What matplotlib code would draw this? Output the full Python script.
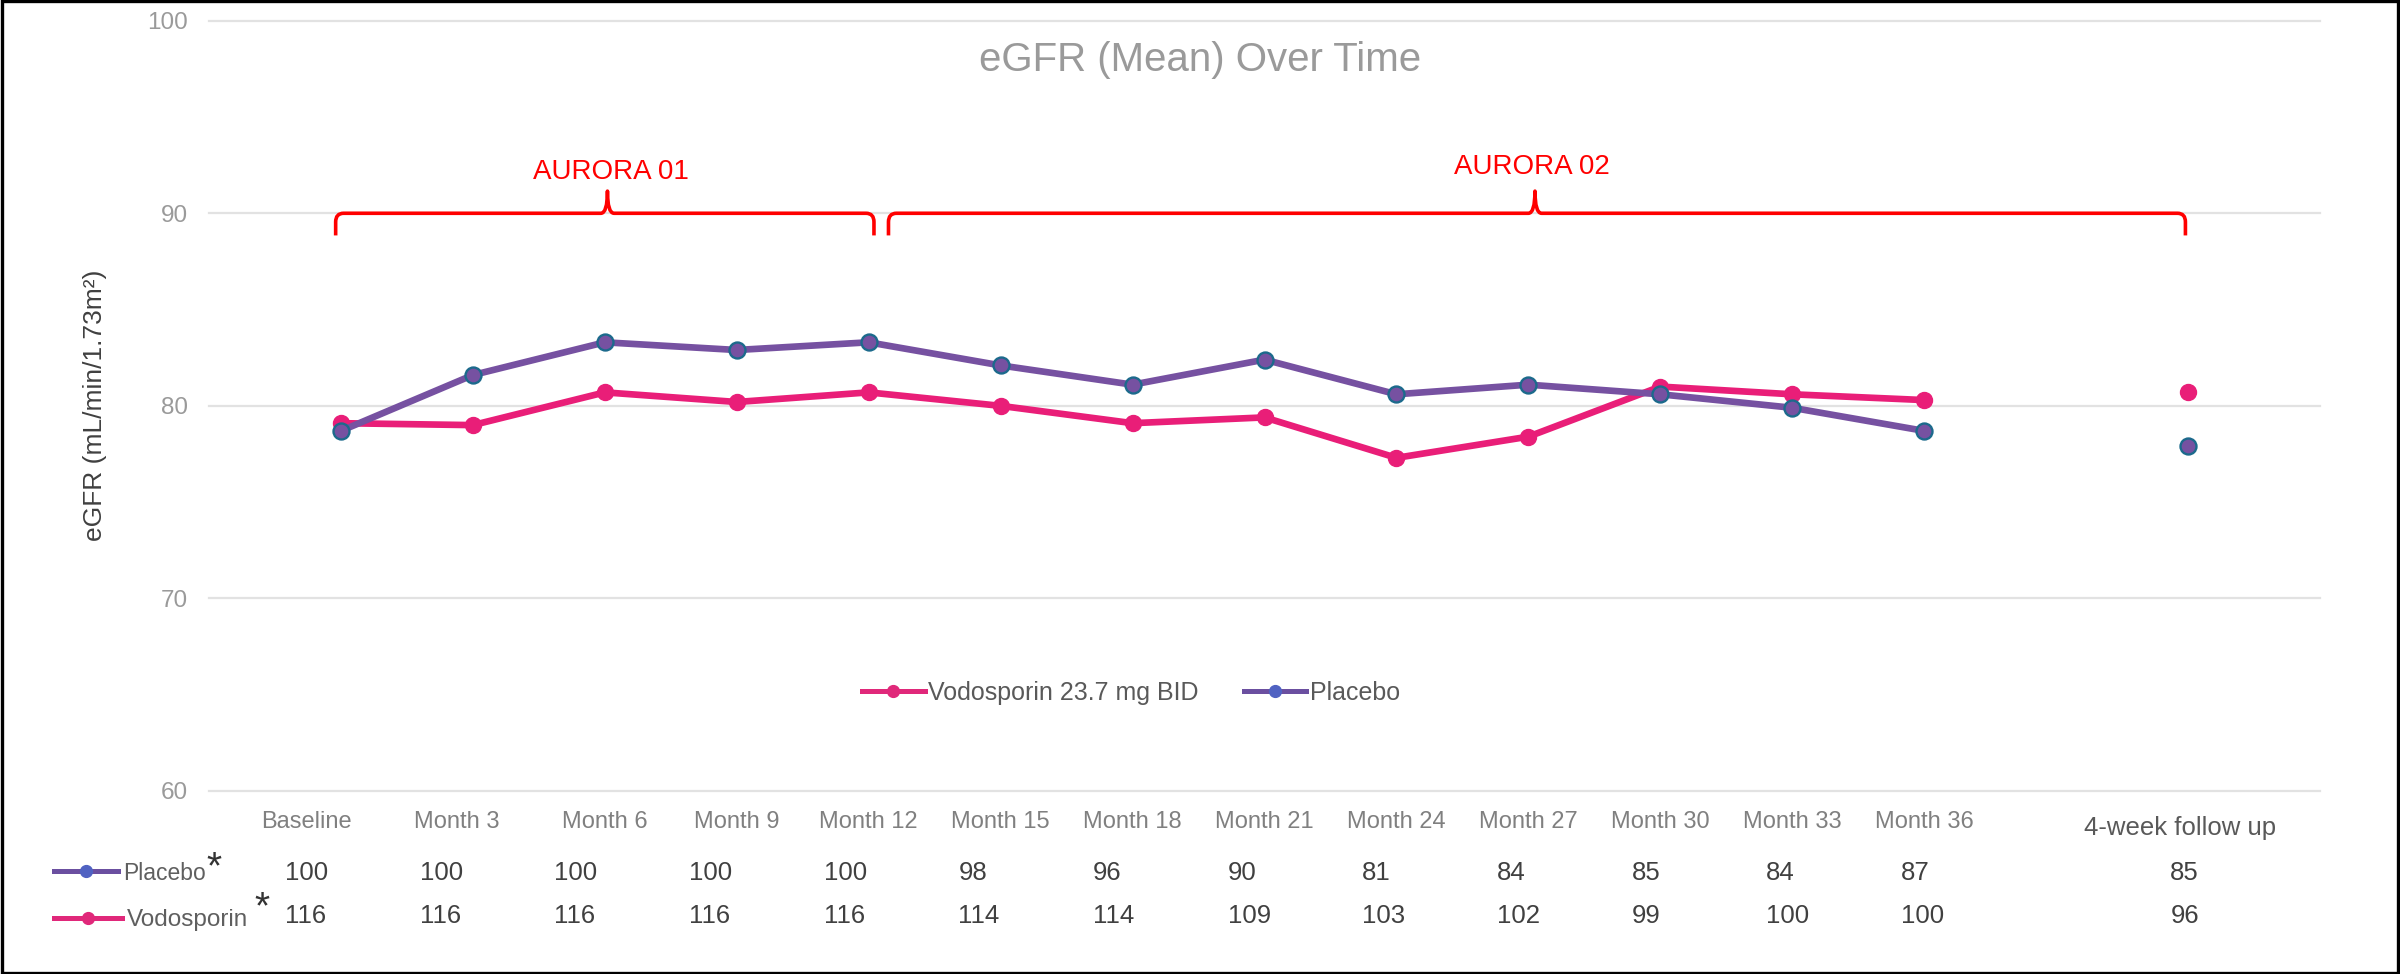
import numpy as np
import matplotlib
matplotlib.use("Agg")
import matplotlib.pyplot as plt
from matplotlib.lines import Line2D
from matplotlib.path import Path
from matplotlib.patches import PathPatch, Rectangle
import matplotlib.transforms as mtransforms

plt.rcParams['font.family'] = ['Liberation Sans', 'DejaVu Sans']

# ---------------- data ----------------
months = ["Baseline", "Month 3", "Month 6", "Month 9", "Month 12", "Month 15",
          "Month 18", "Month 21", "Month 24", "Month 27", "Month 30", "Month 33", "Month 36"]
followup_label = "4-week follow up"

placebo = [78.7, 81.6, 83.3, 82.9, 83.3, 82.1, 81.1, 82.4, 80.6, 81.1, 80.6, 79.9, 78.7]
vodosporin = [79.1, 79.0, 80.7, 80.2, 80.7, 80.0, 79.1, 79.4, 77.3, 78.4, 81.0, 80.6, 80.3]
placebo_followup = 77.9
vodosporin_followup = 80.7

n_placebo = [100, 100, 100, 100, 100, 98, 96, 90, 81, 84, 85, 84, 87, 85]
n_vodosporin = [116, 116, 116, 116, 116, 114, 114, 109, 103, 102, 99, 100, 100, 96]

yticks = [60, 70, 80, 90, 100]
title = "eGFR (Mean) Over Time"
ylabel = "eGFR (mL/min/1.73m\u00b2)"
series_names = ["Vodosporin 23.7 mg BID", "Placebo"]
row_names = ["Placebo", "Vodosporin"]
study_labels = ["AURORA 01", "AURORA 02"]

# ---------------- style ----------------
PINK = "#E91E78"
PURPLE = "#7651A1"
TEAL = "#1C6A8C"
GRID = "#E2E2E2"

W, H = 2400, 974
fig = plt.figure(figsize=(W / 100, H / 100), dpi=100)
ax = fig.add_axes([209 / W, 1 - 791 / H, (2320 - 209) / W, (791 - 20.7) / H])

xs = np.arange(1, len(months) + 1)
fu_x = len(months) + 2

ax.plot(xs, vodosporin, color=PINK, lw=4.8, marker='o', ms=11.5,
        mfc=PINK, mec=PINK, mew=1.0, zorder=3, solid_capstyle='round')
ax.plot([fu_x], [vodosporin_followup], ls='none', marker='o', ms=11.5,
        mfc=PINK, mec=PINK, zorder=3)
ax.plot(xs, placebo, color=PURPLE, lw=4.8, marker='o', ms=11.5,
        mfc=PURPLE, mec=TEAL, mew=1.7, zorder=4, solid_capstyle='round')
ax.plot([fu_x], [placebo_followup], ls='none', marker='o', ms=11.5,
        mfc=PURPLE, mec=TEAL, mew=1.7, zorder=4)

ax.set_xlim(0, 16)
ax.set_ylim(60, 100)
ax.set_yticks(yticks)
ax.set_xticks([])
for s in ax.spines.values():
    s.set_visible(False)
ax.yaxis.grid(True, color=GRID, lw=1.6)
for gl in ax.get_ygridlines():
    gl.set_clip_on(False)
ax.set_axisbelow(True)
ax.tick_params(axis='y', length=0, pad=15, labelsize=17.5, labelcolor="#9A9A9A")

# x category labels
blend = mtransforms.blended_transform_factory(ax.transData, fig.transFigure)
label_dx = [-0.265, -0.12] + [0.0] * (len(months) - 2)
for x, lab, dx in zip(xs, months, label_dx):
    ax.text(x + dx, 1 - 822 / H, lab, transform=blend, ha='center', va='center',
            fontsize=17, color="#808080")
ax.text(fu_x - 0.06, 1 - 828 / H, followup_label, transform=blend, ha='center',
        va='center', fontsize=18.5, color="#595959")

# table of n
col_x0, col_step = 0.576, 1.0207
for i, (a, b) in enumerate(zip(n_placebo, n_vodosporin)):
    ci = i if i < len(months) else i + 1
    cx = col_x0 + col_step * ci
    ax.text(cx, 1 - 873 / H, str(a), transform=blend, ha='left', va='center',
            fontsize=18.5, color="#404040")
    ax.text(cx, 1 - 916 / H, str(b), transform=blend, ha='left', va='center',
            fontsize=18.5, color="#404040")

# braces
def brace(x0, x1, xm, yh=90.0, ye=88.85, yt=91.15, rx=0.06, ry=0.45, tw=0.05):
    verts = [(x0, ye), (x0, yh - ry), (x0, yh), (x0 + rx, yh),
             (xm - tw, yh), (xm, yh), (xm, yt),
             (xm, yh), (xm + tw, yh),
             (x1 - rx, yh), (x1, yh), (x1, yh - ry), (x1, ye)]
    codes = [Path.MOVETO, Path.LINETO, Path.CURVE3, Path.CURVE3,
             Path.LINETO, Path.CURVE3, Path.CURVE3,
             Path.CURVE3, Path.CURVE3,
             Path.LINETO, Path.CURVE3, Path.CURVE3, Path.LINETO]
    ax.add_patch(PathPatch(Path(verts, codes), fill=False, ec="#FF0000", lw=2.6,
                           capstyle='butt', joinstyle='round', zorder=5))

brace(0.96, 5.04, 3.02)
brace(5.15, 14.98, 10.05)
ax.text(3.05, 92.15, study_labels[0], ha='center', va='center', fontsize=20, color="#FF0000")
ax.text(10.03, 92.4, study_labels[1], ha='center', va='center', fontsize=20, color="#FF0000")

# title and y label
fig.text(0.5, 1 - 60 / H, title, ha='center', va='center', fontsize=29, color="#9A9A9A")
fig.text(95 / W, 1 - 405 / H, ylabel, rotation=90, ha='center', va='center',
         fontsize=19, color="#404040")

# main legend
h_vodo = Line2D([], [], color="#E0287A", lw=3.6, marker='o', ms=8.5, mfc="#E0287A", mec="#E0287A")
h_plac = Line2D([], [], color="#6B4FA0", lw=3.6, marker='o', ms=8.5, mfc="#5062C2", mec="#5062C2")
fig.legend([h_vodo, h_plac], series_names, loc='center left',
           bbox_to_anchor=(862 / W, 1 - 693 / H), ncol=2, frameon=False,
           fontsize=18, labelcolor="#595959", handlelength=2.5, handletextpad=0.15,
           columnspacing=1.8, borderpad=0, borderaxespad=0)

# row label legends
for name, h, yy, fs in [(row_names[0], h_plac, 873, 16.5), (row_names[1], h_vodo, 920, 17.5)]:
    fig.legend([h], [name], loc='center left', bbox_to_anchor=(54 / W, 1 - yy / H),
               frameon=False, fontsize=fs, labelcolor="#5F5F5F", handlelength=2.8,
               handletextpad=0.2, borderpad=0, borderaxespad=0)
fig.text(214 / W, 1 - 868 / H, "*", ha='center', va='center', fontsize=28, color="#333333")
fig.text(262 / W, 1 - 908 / H, "*", ha='center', va='center', fontsize=28, color="#333333")

# outer frame
fig.patches.append(Rectangle((0.0007, 0.0015), 0.9986, 0.997, transform=fig.transFigure,
                             fill=False, ec="black", lw=2.4))

fig.savefig("out.png", dpi=100)
